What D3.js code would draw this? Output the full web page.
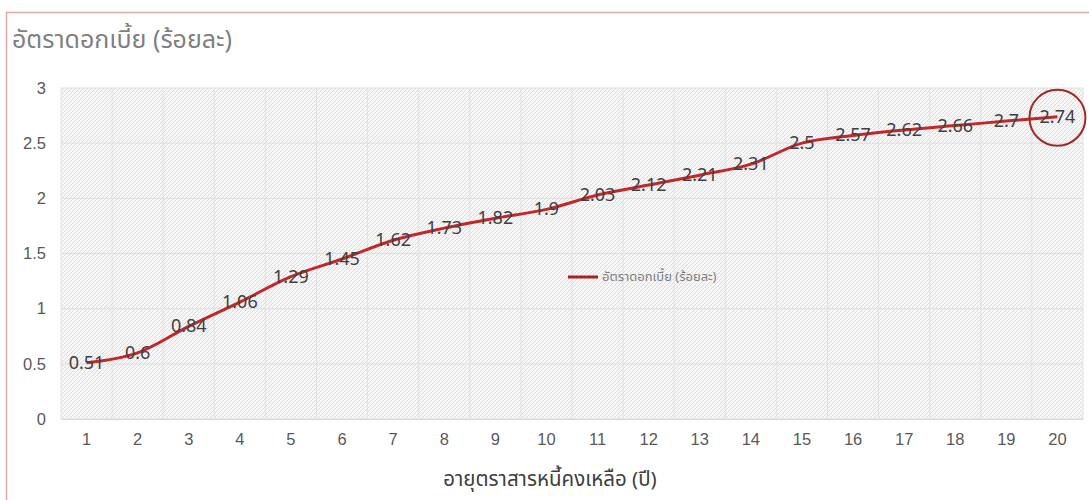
<!DOCTYPE html>
<html><head><meta charset="utf-8">
<script src="https://cdn.jsdelivr.net/npm/d3@7"></script>
<style>
html,body{margin:0;padding:0;background:#fff;}
svg{display:block;font-family:"Noto Sans","Noto Sans Thai","DejaVu Sans",sans-serif;}
</style></head>
<body>
<svg id="c" width="1089" height="500"></svg>
<script>
const categories = ["1","2","3","4","5","6","7","8","9","10","11","12","13","14","15","16","17","18","19","20"];
const rates = [0.51,0.6,0.84,1.06,1.29,1.45,1.62,1.73,1.82,1.9,2.03,2.12,2.21,2.31,2.5,2.57,2.62,2.66,2.7,2.74];
const labels = ["0.51","0.6","0.84","1.06","1.29","1.45","1.62","1.73","1.82","1.9","2.03","2.12","2.21","2.31","2.5","2.57","2.62","2.66","2.7","2.74"];
const yTicks = [0,0.5,1,1.5,2,2.5,3];
const titleText = "อัตราดอกเบี้ย (ร้อยละ)";
const xTitle = "อายุตราสารหนี้คงเหลือ (ปี)";
const seriesName = "อัตราดอกเบี้ย (ร้อยละ)";

const svg = d3.select("#c");
const L = 61, R = 1083, T = 88, B = 419;

// outer frame
svg.append("path").attr("d","M6.5,500 L6.5,12.5 L1089,12.5")
  .attr("fill","none").attr("stroke","#d9aaa6").attr("stroke-width",1.5);

const defs = svg.append("defs");
const pat = defs.append("pattern").attr("id","hatch").attr("patternUnits","userSpaceOnUse")
  .attr("width",4).attr("height",4);
pat.append("rect").attr("width",4).attr("height",4).attr("fill","#f7f7f7");
pat.append("path").attr("d","M-1,1 l2,-2 M0,4 l4,-4 M3,5 l2,-2")
  .attr("stroke","#dcdcdc").attr("stroke-width",1);

const x = d3.scaleBand().domain(categories).range([L,R]);
const y = d3.scaleLinear().domain([0,3]).range([B,T]);

svg.append("rect").attr("x",L).attr("y",T).attr("width",R-L).attr("height",B-T).attr("fill","url(#hatch)");

// gridlines
svg.append("g").selectAll("line").data(yTicks).join("line")
  .attr("x1",L).attr("x2",R).attr("y1",d=>y(d)).attr("y2",d=>y(d))
  .attr("stroke","#dedede").attr("stroke-width",1);
const bounds = categories.map(c=>x(c)).concat([R]);
svg.append("g").selectAll("line").data(bounds).join("line")
  .attr("x1",d=>d).attr("x2",d=>d).attr("y1",T).attr("y2",B)
  .attr("stroke","#e2e2e2").attr("stroke-width",1);

// axes
const yAxis = svg.append("g").attr("transform",`translate(${L},0)`)
  .call(d3.axisLeft(y).tickValues(yTicks).tickSize(0).tickPadding(15).tickFormat(d=>String(d)));
yAxis.select(".domain").remove();
yAxis.selectAll("text").attr("font-size",16.5).attr("fill","#595959").attr("font-family","inherit");

const xAxis = svg.append("g").attr("transform",`translate(0,${B})`)
  .call(d3.axisBottom(x).tickSize(0).tickPadding(14));
xAxis.select(".domain").attr("stroke","#d9d9d9");
xAxis.selectAll("text").attr("font-size",16.5).attr("fill","#595959").attr("font-family","inherit");

// title
svg.append("text").attr("x",12).attr("y",48).attr("font-size",25).attr("fill","#7f7f7f").text(titleText);
svg.append("text").attr("x",550).attr("y",486).attr("text-anchor","middle")
  .attr("font-size",20.5).attr("fill","#404040").text(xTitle);

// line
const line = d3.line().x((d,i)=>x(categories[i])+x.bandwidth()/2).y(d=>y(d)).curve(d3.curveMonotoneX);
svg.append("path").datum(rates).attr("d",line).attr("fill","none")
  .attr("stroke","#c0282b").attr("stroke-width",3).attr("stroke-linejoin","round");

// data labels
svg.append("g").selectAll("text").data(rates).join("text")
  .attr("x",(d,i)=>x(categories[i])+x.bandwidth()/2)
  .attr("y",d=>y(d)+6)
  .attr("text-anchor","middle").attr("font-size",18).attr("fill","#404040")
  .text((d,i)=>labels[i]);

// legend
svg.append("line").attr("x1",568).attr("x2",598).attr("y1",277).attr("y2",277)
  .attr("stroke","#a82326").attr("stroke-width",3);
svg.append("text").attr("x",602).attr("y",281).attr("font-size",13).attr("fill","#7f7f7f").text(seriesName);

// highlight circle
const li = rates.length-1;
svg.append("circle").attr("cx",x(categories[li])+x.bandwidth()/2).attr("cy",y(rates[li])+1).attr("r",28)
  .attr("fill","none").attr("stroke","#9e2a2b").attr("stroke-width",2);
</script>
</body></html>
